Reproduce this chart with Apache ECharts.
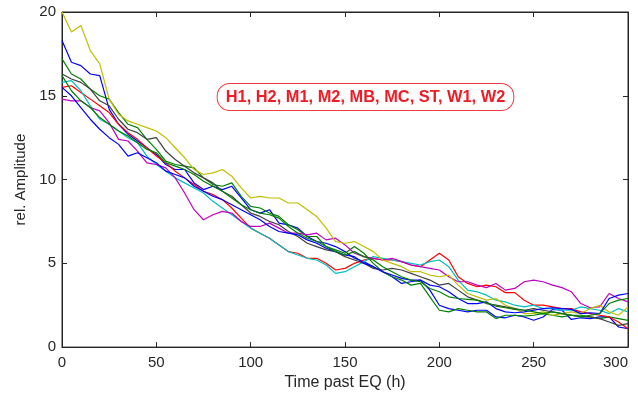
<!DOCTYPE html>
<html>
<head>
<meta charset="utf-8">
<script src="https://cdn.jsdelivr.net/npm/echarts@6/dist/echarts.min.js"></script>
<style>
html,body{margin:0;padding:0;background:#fff;}
#chart{width:638px;height:396px;}
</style>
</head>
<body>
<div id="chart"></div>
<script>
const hours = [0,5,10,15,20,25,30,35,40,45,50,55,60,65,70,75,80,85,90,95,100,105,110,115,120,125,130,135,140,145,150,155,160,165,170,175,180,185,190,195,200,205,210,215,220,225,230,235,240,245,250,255,260,265,270,275,280,285,290,295,300];

const seriesNames = ['H1','H2','M1','M2','MB','MC','ST','W1','W2'];

const H1 = [18.3,17.0,16.8,16.3,16.2,14.2,13.3,12.7,12.3,11.9,11.5,10.9,10.6,10.6,9.8,9.4,9.6,9.4,9.6,8.9,8.2,8.0,8.2,7.4,7.3,7.1,6.6,6.3,6.2,6.0,5.7,5.3,5.1,4.8,4.5,4.2,3.8,3.9,4.0,3.4,2.5,2.3,2.2,2.1,2.2,2.2,1.8,1.75,1.9,1.8,1.6,1.8,2.25,2.2,1.65,1.75,1.7,1.8,1.8,1.2,1.1];
const H2 = [17.2,16.3,16.0,15.4,15.0,14.8,14.0,13.3,13.1,12.4,11.8,11.1,10.9,10.8,10.7,10.1,9.7,9.6,9.8,9.0,8.4,8.3,8.0,7.8,7.3,7.0,6.6,6.6,6.0,5.8,5.6,6.0,5.6,5.0,4.5,4.2,4.0,3.7,3.8,3.0,2.2,2.1,2.3,2.2,2.1,2.1,1.7,1.9,1.9,1.85,1.9,2.0,1.9,1.8,1.9,1.9,1.8,1.7,1.8,1.7,1.6];
const M1 = [15.5,15.6,15.2,14.8,14.4,14.0,13.3,12.8,12.4,11.9,11.4,11.0,10.5,10.1,9.7,9.3,9.1,8.8,8.3,7.7,7.1,6.8,6.5,6.1,5.7,5.6,5.3,5.3,5.0,4.6,4.7,5.0,5.2,5.3,5.2,5.2,5.1,4.9,4.8,5.2,5.6,5.2,4.2,3.8,3.6,3.7,3.6,3.25,3.25,2.8,2.5,2.5,2.4,2.3,2.3,2.1,2.0,1.9,1.8,1.5,1.1];
const M2 = [15.8,15.9,15.3,14.4,13.6,13.3,12.9,12.5,12.2,11.4,10.9,10.5,10.1,9.8,9.5,9.2,8.7,8.3,7.9,7.5,7.1,6.8,6.5,6.1,5.7,5.5,5.3,5.2,4.9,4.4,4.5,4.8,5.1,5.4,5.3,5.2,5.1,5.0,4.9,5.1,5.2,4.8,4.0,3.4,3.3,3.1,2.8,2.7,2.5,2.4,2.5,2.3,2.3,2.2,2.2,2.4,2.3,2.2,2.0,2.3,2.1];
const MB = [14.8,14.7,14.7,14.3,14.1,13.4,12.4,12.3,11.7,11.0,10.9,10.7,10.1,9.2,8.2,7.6,7.9,8.1,8.0,7.5,7.2,7.2,7.4,7.1,6.8,6.8,6.7,6.8,6.4,6.5,6.1,5.6,5.4,5.3,5.2,5.3,5.1,4.9,4.8,4.7,4.6,4.2,3.9,3.9,3.7,3.55,3.8,3.4,3.5,3.9,4.0,3.9,3.7,3.55,3.3,2.6,2.35,2.4,3.2,2.9,2.7];
const MC = [20.0,18.8,19.2,17.7,16.9,14.8,13.9,13.5,13.3,13.1,12.9,12.5,11.9,11.3,10.6,10.3,10.4,10.6,10.2,9.5,8.9,9.0,8.9,8.9,8.6,8.6,8.2,7.8,7.1,6.3,6.2,6.3,6.0,5.7,5.2,5.0,4.8,4.5,4.5,4.3,4.2,4.3,3.7,3.2,3.0,2.8,2.9,2.5,2.3,2.0,2.0,2.1,1.9,2.0,2.1,2.0,2.3,2.5,2.1,1.9,2.4];
const ST = [16.3,16.0,15.8,15.4,14.7,14.4,13.6,13.0,12.8,12.4,12.5,11.7,11.2,10.8,10.4,10.1,9.8,9.3,9.0,8.5,8.0,7.8,7.5,7.3,6.9,6.6,6.2,6.0,5.8,5.7,5.4,5.2,5.0,4.7,4.6,4.7,4.6,4.4,4.2,4.0,3.7,3.8,3.4,3.0,2.8,2.6,2.5,2.4,2.3,2.2,2.3,2.2,2.1,2.0,1.9,1.8,1.8,1.7,1.5,1.3,1.4];
const W1 = [15.5,15.0,14.3,13.6,13.0,12.5,12.1,11.4,11.6,11.3,11.0,10.5,10.3,10.1,9.6,9.3,9.0,8.8,8.5,8.2,7.9,7.6,7.2,6.9,6.8,6.7,6.4,6.2,5.9,5.7,5.5,5.4,5.0,4.8,4.5,4.3,4.1,4.0,4.0,3.7,3.6,3.3,2.9,2.6,2.6,2.7,2.3,2.1,2.05,2.1,2.2,2.3,2.35,2.3,2.25,2.0,2.05,2.0,2.9,3.1,3.2];
const W2 = [16.2,15.3,14.7,14.3,13.7,13.3,12.9,12.6,12.2,11.8,11.6,11.0,10.8,10.6,10.3,9.9,9.6,9.3,8.9,8.5,8.2,8.0,7.9,7.7,7.2,6.8,6.5,6.3,6.0,5.7,5.5,5.7,5.4,5.2,4.8,4.5,4.2,4.0,3.9,3.5,3.3,3.0,2.9,2.85,2.8,2.65,2.45,2.35,2.25,2.2,2.1,2.0,2.1,2.0,1.9,1.8,1.9,2.0,2.6,2.8,2.9];

const xTicks = [0,50,100,150,200,250,300];
const yTicks = [0,5,10,15,20];
const labelText = 'H1, H2, M1, M2, MB, MC, ST, W1, W2';

const values = [H1,H2,M1,M2,MB,MC,ST,W1,W2];
const colors = ['#0000ff','#008000','#ff0000','#00bfbf','#bf00bf','#bfbf00','#404040','#0000ff','#008000'];

const font = 'Liberation Sans, Arial, Helvetica, sans-serif';
const axisCommon = {
  type: 'value',
  axisLine: {show: true, onZero: false, lineStyle: {color: '#262626', width: 1}},
  axisTick: {show: true, inside: true, length: 5, lineStyle: {color: '#262626'}},
  splitLine: {show: false}
};

const chart = echarts.init(document.getElementById('chart'), null, {renderer: 'canvas'});
chart.setOption({
  animation: false,
  backgroundColor: '#ffffff',
  grid: {left: 62, right: 10, top: 12, bottom: 48, show: true, borderColor: '#262626', borderWidth: 1},
  xAxis: [
    Object.assign({}, axisCommon, {
      min: xTicks[0], max: xTicks[xTicks.length-1], interval: 50, position: 'bottom',
      name: 'Time past EQ (h)', nameLocation: 'middle', nameGap: 27,
      nameTextStyle: {color: '#262626', fontSize: 16, fontFamily: font},
      axisLabel: {color: '#262626', fontSize: 15, fontFamily: font, margin: 8, alignMaxLabel: 'right'}
    }),
    Object.assign({}, axisCommon, {
      min: xTicks[0], max: xTicks[xTicks.length-1], interval: 50, position: 'top',
      axisLabel: {show: false}
    })
  ],
  yAxis: [
    Object.assign({}, axisCommon, {
      min: yTicks[0], max: yTicks[yTicks.length-1], interval: 5, position: 'left',
      name: 'rel. Amplitude', nameLocation: 'middle', nameGap: 32,
      nameTextStyle: {color: '#262626', fontSize: 15, fontFamily: font},
      axisLabel: {color: '#262626', fontSize: 15, fontFamily: font, margin: 6}
    }),
    Object.assign({}, axisCommon, {
      min: yTicks[0], max: yTicks[yTicks.length-1], interval: 5, position: 'right',
      axisLabel: {show: false}
    })
  ],
  series: values.map((v, i) => ({
    name: seriesNames[i],
    type: 'line',
    data: hours.map((h, j) => [h, v[j]]),
    showSymbol: false,
    symbol: 'none',
    lineStyle: {color: colors[i], width: 1.2},
    itemStyle: {color: colors[i]},
    clip: true
  })),
  graphic: [{
    type: 'text',
    x: 365.5,
    y: 97,
    z: 100,
    style: {
      text: labelText,
      fill: '#ee1c25',
      font: 'bold 16.4px ' + font,
      align: 'center',
      verticalAlign: 'middle',
      backgroundColor: '#ffffff',
      borderColor: '#f03a44',
      borderWidth: 1,
      borderRadius: 12,
      padding: [5, 8, 5, 8]
    }
  }]
});
</script>
</body>
</html>
